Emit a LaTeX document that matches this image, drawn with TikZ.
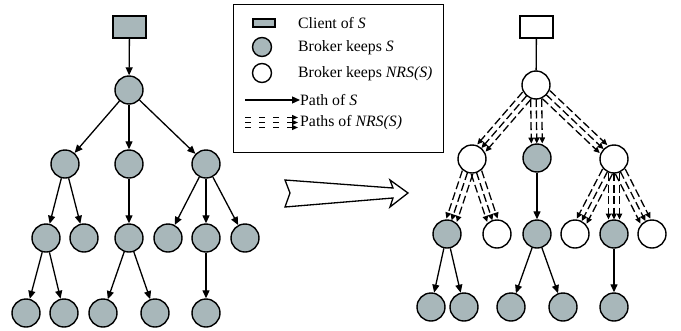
\documentclass[tikz,border=0pt]{standalone}
\usepackage{fontspec}
\setmainfont{Liberation Serif}
\usetikzlibrary{arrows.meta,calc}
\definecolor{brk}{RGB}{168,183,186}
\newcommand\nrsarrow[2]{\foreach \o in {-5.5,0,5.5}{\draw[nrs,shorten <=14pt,shorten >=14.5pt] ($(#1)!\o pt!90:(#2)$) -- ($(#2)!\o pt!-90:(#1)$);}}
\begin{document}
\begin{tikzpicture}[x=1pt,y=-1pt,
 gnode/.style={circle,draw,line width=1.4pt,fill=brk,minimum size=28pt,inner sep=0pt},
 wnode/.style={circle,draw,line width=1.4pt,fill=white,minimum size=28pt,inner sep=0pt},
 client/.style={rectangle,draw,line width=1.4pt,minimum width=33pt,minimum height=22pt,inner sep=0pt},
 path/.style={draw,line width=1.3pt,-{Triangle[length=8pt,width=7pt]}},
 nrs/.style={draw,line width=1.3pt,dash pattern=on 8pt off 3.5pt,-{Triangle[length=6pt,width=5.5pt]}},
 lbl/.style={anchor=west,font=\fontsize{15.8}{18}\selectfont,inner sep=0pt}]
\useasboundingbox (0,0) rectangle (681,330);
% ---------- left tree ----------
\node[client,fill=brk] (lc) at (129.5,27) {};
\node[gnode] (l0) at (129,90) {};
\node[gnode] (l1) at (65,164) {};
\node[gnode] (l2) at (129,164) {};
\node[gnode] (l3) at (206,164) {};
\node[gnode] (l4) at (46,238) {};
\node[gnode] (l5) at (84,238) {};
\node[gnode] (l6) at (129,238) {};
\node[gnode] (l7) at (168,238) {};
\node[gnode] (l8) at (206,238) {};
\node[gnode] (l9) at (245,238) {};
\node[gnode] (l10) at (26,313) {};
\node[gnode] (l11) at (64,313) {};
\node[gnode] (l12) at (103,313) {};
\node[gnode] (l13) at (155,313) {};
\node[gnode] (l14) at (206,313) {};
\draw[path] (lc) -- (l0);
\draw[path] (l0) -- (l1);
\draw[path] (l0) -- (l2);
\draw[path] (l0) -- (l3);
\draw[path] (l1) -- (l4);
\draw[path] (l1) -- (l5);
\draw[path] (l2) -- (l6);
\draw[path] (l3) -- (l7);
\draw[path] (l3) -- (l8);
\draw[path] (l3) -- (l9);
\draw[path] (l4) -- (l10);
\draw[path] (l4) -- (l11);
\draw[path] (l6) -- (l12);
\draw[path] (l6) -- (l13);
\draw[path] (l8) -- (l14);
% ---------- legend ----------
\node[draw,line width=1.2pt,minimum width=210pt,minimum height=148pt,anchor=north west,inner sep=0pt] (legend) at (233,4) {};
\node[client,fill=brk,minimum width=22pt,minimum height=8pt] (k1) at (264,23) {};
\node[lbl] (t1) at (298,23) {Client of \textit{S}};
\node[gnode,minimum size=19pt] (k2) at (262,47) {};
\node[lbl] (t2) at (298,48) {Broker keeps \textit{S}};
\node[wnode,minimum size=19pt] (k3) at (262,73) {};
\node[lbl] (t3) at (298,74) {Broker keeps \textit{NRS(S)}};
\coordinate (a1) at (245,100);
\node[lbl] (t4) at (300,100) {Path of \textit{S}};
\draw[path] (a1) -- (t4.west);
\coordinate (d1) at (245,117.5);
\coordinate (d2) at (245,122.5);
\coordinate (d3) at (245,127.5);
\coordinate (e1) at (298,117.5);
\coordinate (e2) at (298,122.5);
\coordinate (e3) at (298,127.5);
\node[lbl] (t5) at (300,122.5) {Paths of \textit{NRS(S)}};
\draw[nrs,dash pattern=on 6pt off 8pt,-{Triangle[length=6pt,width=5pt]}] (d1) -- (e1);
\draw[nrs,dash pattern=on 6pt off 8pt,-{Triangle[length=6pt,width=5pt]}] (d2) -- (e2);
\draw[nrs,dash pattern=on 6pt off 8pt,-{Triangle[length=6pt,width=5pt]}] (d3) -- (e3);
% ---------- big arrow ----------
\draw[line width=1.3pt,line join=miter] (285,180) -- (393,188) -- (390,180) -- (408,193) -- (390,207) -- (393,198) -- (285,207) -- (290,193) -- cycle;
% ---------- right tree ----------
\node[client,fill=white] (rc) at (536.5,27) {};
\node[wnode] (r0) at (536,85) {};
\node[wnode] (r1) at (472,159) {};
\node[gnode] (r2) at (537,158) {};
\node[wnode] (r3) at (614,159) {};
\node[gnode] (r4) at (447,234) {};
\node[wnode] (r5) at (497,234) {};
\node[gnode] (r6) at (537,234) {};
\node[wnode] (r7) at (575,234) {};
\node[gnode] (r8) at (614,234) {};
\node[wnode] (r9) at (652,234) {};
\node[gnode] (r10) at (431,307) {};
\node[gnode] (r11) at (464,307) {};
\node[gnode] (r12) at (511,307) {};
\node[gnode] (r13) at (563,307) {};
\node[gnode] (r14) at (614,307) {};
\draw[line width=1.3pt] (rc) -- (r0);
\nrsarrow{r0}{r1}
\nrsarrow{r0}{r2}
\nrsarrow{r0}{r3}
\nrsarrow{r1}{r4}
\nrsarrow{r1}{r5}
\draw[path] (r2) -- (r6);
\nrsarrow{r3}{r7}
\nrsarrow{r3}{r8}
\nrsarrow{r3}{r9}
\draw[path] (r4) -- (r10);
\draw[path] (r4) -- (r11);
\draw[path] (r6) -- (r12);
\draw[path] (r6) -- (r13);
\draw[path] (r8) -- (r14);
\end{tikzpicture}
\end{document}
